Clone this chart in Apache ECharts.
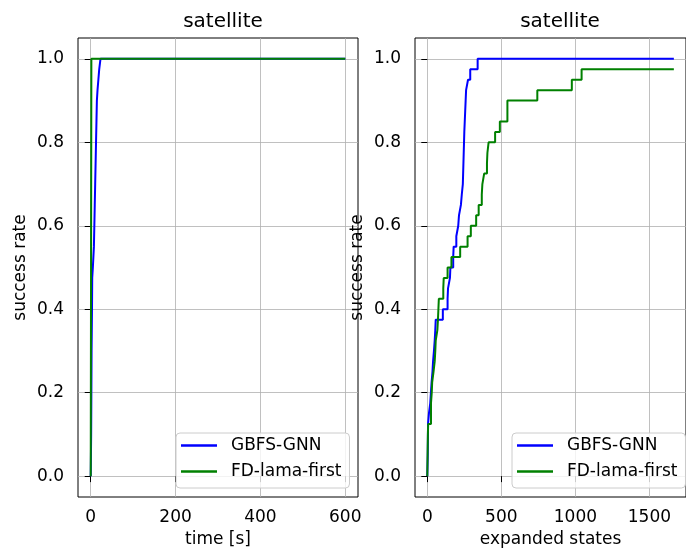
<!DOCTYPE html>
<html>
<head>
<meta charset="utf-8">
<script src="https://cdn.jsdelivr.net/npm/echarts@6/dist/echarts.min.js"></script>
<style>
  html, body { margin: 0; padding: 0; background: #fff; }
  #chart { width: 686px; height: 556px; }
</style>
</head>
<body>
<div id="chart"></div>
<script>
// success rate over time (left) and over expanded states (right)
var seriesNames = ['GBFS-GNN', 'FD-lama-first'];

var timeGnnX = [0, 1, 1.5, 2, 2.5, 3, 3.5, 5, 7.5, 8.5, 9.5, 10.5, 11.5, 12.5, 13.5, 14.5, 16, 18, 20, 23, 600];
var timeGnnY = [0, 0.1, 0.2, 0.3, 0.35, 0.4, 0.475, 0.5, 0.55, 0.6, 0.65, 0.7, 0.75, 0.8, 0.85, 0.9, 0.925, 0.95, 0.975, 1.0, 1.0];
var timeLamaX = [0, 1.5, 600];
var timeLamaY = [0, 1.0, 1.0];

var statesGnnX = [0, 3, 5, 11, 20, 29, 35, 39, 45, 50, 54, 57, 105, 137, 140, 153, 156, 175, 178, 196, 209, 214, 227,
  233, 240, 242, 244, 246, 248, 250, 253, 256, 259, 262, 275, 290, 340, 1665];
var statesGnnY = [0, 0.05, 0.125, 0.15, 0.175, 0.225, 0.25, 0.275, 0.3, 0.325, 0.35, 0.375, 0.4, 0.425, 0.45, 0.475, 0.5, 0.525, 0.55, 0.575, 0.6, 0.625, 0.65,
  0.675, 0.7, 0.725, 0.75, 0.775, 0.8, 0.825, 0.85, 0.875, 0.9, 0.925, 0.95, 0.975, 1.0, 1.0];
var statesLamaX = [0, 2, 4, 6, 25, 30, 33, 42, 50, 54, 57, 68, 72, 75, 78, 108, 111, 137, 163, 222, 272, 294, 330, 347,
  368, 372, 384, 403, 406, 414, 458, 490, 541, 743, 976, 1042, 1665];
var statesLamaY = [0, 0.05, 0.1, 0.125, 0.175, 0.2, 0.225, 0.25, 0.275, 0.3, 0.325, 0.35, 0.375, 0.4, 0.425, 0.45, 0.475, 0.5, 0.525, 0.55, 0.575, 0.6, 0.625, 0.65,
  0.675, 0.7, 0.725, 0.75, 0.775, 0.8, 0.825, 0.85, 0.9, 0.925, 0.95, 0.975, 0.975];

var timeTicks = [0, 200, 400, 600];
var statesTicks = [0, 500, 1000, 1500];
var rateTicks = [0, 0.2, 0.4, 0.6, 0.8, 1.0];

function pairs(xs, ys) {
  return xs.map(function (x, i) { return [x, ys[i]]; });
}

var font = 'DejaVu Sans';
var gridLine = { show: true, lineStyle: { color: '#b0b0b0', width: 0.8 } };

function xAxisFor(idx, min, max, ticks, name) {
  return {
    type: 'value', gridIndex: idx, min: min, max: max,
    name: name, nameLocation: 'middle', nameGap: 34,
    nameTextStyle: { fontFamily: font, fontSize: 17, color: '#000' },
    axisLine: { show: false },
    axisTick: { show: true, length: 6, customValues: ticks, lineStyle: { color: '#000', width: 1 } },
    axisLabel: {
      customValues: ticks, margin: 12, fontFamily: font, fontSize: 17, color: '#000',
      formatter: function (v) { return String(v); }
    },
    splitLine: gridLine
  };
}

function yAxisFor(idx) {
  return {
    type: 'value', gridIndex: idx, min: -0.05, max: 1.05,
    name: 'success rate', nameLocation: 'middle', nameGap: 49,
    nameTextStyle: { fontFamily: font, fontSize: 17, color: '#000' },
    axisLine: { show: false },
    axisTick: { show: true, length: 6, customValues: rateTicks, lineStyle: { color: '#000', width: 1 } },
    axisLabel: {
      customValues: rateTicks, margin: 14, fontFamily: font, fontSize: 17, color: '#000',
      formatter: function (v) { return v.toFixed(1); }
    },
    splitLine: gridLine
  };
}

function legendFor(left) {
  return {
    data: seriesNames, orient: 'vertical', left: left, top: 433,
    icon: 'rect', itemWidth: 36, itemHeight: 2.5, itemGap: 9,
    padding: [4, 8, 8, 5],
    backgroundColor: 'rgba(255,255,255,0.8)', borderColor: '#cccccc', borderWidth: 1, borderRadius: 4,
    textStyle: { fontFamily: font, fontSize: 17, color: '#000', lineHeight: 17, padding: [0, 0, 0, 9] },
    selectedMode: false
  };
}

function line(name, color, xi, data) {
  return {
    name: name, type: 'line', xAxisIndex: xi, yAxisIndex: xi,
    data: data, step: 'end', showSymbol: false, symbol: 'none',
    lineStyle: { color: color, width: 2 }, itemStyle: { color: color }
  };
}

var chart = echarts.init(document.getElementById('chart'), null, { renderer: 'canvas' });
var option = {
  backgroundColor: '#ffffff',
  animation: false,
  title: [
    { text: 'satellite', left: 218, textAlign: 'center', top: 7, textStyle: { fontFamily: font, fontSize: 20, fontWeight: 'normal', color: '#000' } },
    { text: 'satellite', left: 555, textAlign: 'center', top: 7, textStyle: { fontFamily: font, fontSize: 20, fontWeight: 'normal', color: '#000' } }
  ],
  grid: [
    { left: 78, top: 38, width: 280, height: 459, show: true, borderColor: '#000', borderWidth: 1, backgroundColor: 'transparent' },
    { left: 415, top: 38, width: 280, height: 459, show: true, borderColor: '#000', borderWidth: 1, backgroundColor: 'transparent' }
  ],
  xAxis: [
    xAxisFor(0, -30, 630, timeTicks, 'time [s]'),
    xAxisFor(1, -83, 1747, statesTicks, 'expanded states')
  ],
  yAxis: [yAxisFor(0), yAxisFor(1)],
  legend: [legendFor(176), legendFor(512)],
  series: [
    line('GBFS-GNN', '#0000ff', 0, pairs(timeGnnX, timeGnnY)),
    line('FD-lama-first', '#008000', 0, pairs(timeLamaX, timeLamaY)),
    line('GBFS-GNN', '#0000ff', 1, pairs(statesGnnX, statesGnnY)),
    line('FD-lama-first', '#008000', 1, pairs(statesLamaX, statesLamaY))
  ]
};
chart.setOption(option);
window.addEventListener('resize', chart.resize);
</script>
</body>
</html>
